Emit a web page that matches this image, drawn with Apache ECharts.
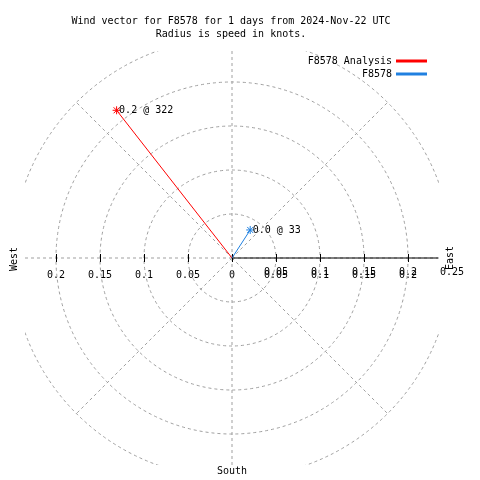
<!DOCTYPE html>
<html>
<head>
<meta charset="utf-8">
<script src="https://cdn.jsdelivr.net/npm/echarts@6/dist/echarts.min.js"></script>
<style>html,body{margin:0;padding:0;background:#fff}#c{width:480px;height:480px}</style>
</head>
<body>
<div id="c"></div>
<script>
const titleLines = ['Wind vector for F8578 for 1 days from 2024-Nov-22 UTC', 'Radius is speed in knots.'];
const seriesNames = ['F8578 Analysis', 'F8578'];
const seriesColors = ['#ff0000', '#2080e0'];
const speeds = [0.213, 0.038];
const directions = [322, 33];
const ringValues = [0.05, 0.1, 0.15, 0.2, 0.25];
const spokeAngles = [0, 45, 90, 135, 180, 225, 270, 315];
const xTickValues = [-0.2, -0.15, -0.1, -0.05, 0, 0.05, 0.1, 0.15, 0.2];
const xTickLabels = ['0.2', '0.15', '0.1', '0.05', '0', '0.05', '0.1', '0.15', '0.2'];
const rTickValues = [0.05, 0.1, 0.15, 0.2, 0.25];
const rTickLabels = ['0.05', '0.1', '0.15', '0.2', '0.25'];
const compassLabels = ['West', 'East', 'South'];

const FONT = 'DejaVu Sans Mono';
const GRID_COLOR = '#a0a0a0';
const SQ = 0.2352;   // half-size of the plot square in knots
const RMAX = 0.25;

function labelFor(vals, labs) {
  return function (v) {
    const i = vals.findIndex(t => Math.abs(t - v) < 1e-9);
    return i >= 0 ? labs[i] : '';
  };
}

function renderGrid(params, api) {
  const cs = params.coordSys;
  const clip = () => ({ type: 'rect', shape: { x: cs.x, y: cs.y, width: cs.width, height: cs.height } });
  const o = api.coord([0, 0]);
  const dashed = { fill: 'none', stroke: GRID_COLOR, lineWidth: 1, lineDash: [3, 3] };
  const children = [];
  ringValues.forEach(v => {
    const p = api.coord([v, 0]);
    children.push({ type: 'circle', shape: { cx: o[0], cy: o[1], r: p[0] - o[0] }, style: dashed, clipPath: clip() });
  });
  spokeAngles.forEach(a => {
    const rad = a * Math.PI / 180;
    const p = api.coord([RMAX * Math.sin(rad), RMAX * Math.cos(rad)]);
    children.push({ type: 'line', shape: { x1: o[0], y1: o[1], x2: p[0], y2: p[1] }, style: dashed, clipPath: clip() });
  });
  const e = api.coord([SQ - 0.001, 0]);
  children.push({ type: 'line', shape: { x1: o[0], y1: o[1], x2: e[0], y2: e[1] }, style: { stroke: '#000', lineWidth: 1 } });
  xTickValues.forEach(v => {
    const p = api.coord([v, 0]);
    children.push({ type: 'line', shape: { x1: Math.round(p[0]) + 0.5, y1: p[1] - 4, x2: Math.round(p[0]) + 0.5, y2: p[1] + 4 }, style: { stroke: '#000', lineWidth: 1 } });
  });
  return { type: 'group', children: children };
}

const asterisk = 'path://M4 0L4 8M0 4L8 4M1 1L7 7M7 1L1 7';

const vectorSeries = seriesNames.map((name, i) => ({
  type: 'line',
  name: name,
  coordinateSystem: 'polar',
  polarIndex: 0,
  z: 5,
  color: seriesColors[i],
  lineStyle: { color: seriesColors[i], width: 1 },
  symbol: asterisk,
  symbolSize: 8,
  itemStyle: { color: seriesColors[i], borderColor: seriesColors[i], borderWidth: 1 },
  label: { show: false },
  data: [
    { value: [0, directions[i]], symbol: 'none' },
    {
      value: [speeds[i], directions[i]],
      label: {
        show: true, position: 'right', distance: -2,
        formatter: speeds[i].toFixed(1) + ' @ ' + directions[i],
        fontFamily: FONT, fontSize: 10, color: '#000'
      }
    }
  ]
}));

const axisText = { fontFamily: FONT, fontSize: 10, color: '#000' };

const option = {
  animation: false,
  backgroundColor: '#fff',
  title: {
    text: titleLines.join('\n'),
    left: 231, top: 15, textAlign: 'center', padding: 0,
    textStyle: { fontFamily: FONT, fontSize: 10, fontWeight: 'normal', color: '#000', lineHeight: 13 }
  },
  legend: [
    { data: [seriesNames[0]], right: 53, top: 56, padding: 0, align: 'right', icon: 'rect', itemWidth: 29, itemHeight: 1, textStyle: axisText, selectedMode: false },
    { data: [seriesNames[1]], right: 53, top: 69, padding: 0, align: 'right', icon: 'rect', itemWidth: 29, itemHeight: 1, textStyle: axisText, selectedMode: false }
  ],
  grid: [
    { left: 25, top: 51, width: 414, height: 414, show: false },
    { left: 12, top: 38, width: 440, height: 440, show: false }
  ],
  xAxis: [
    {
      type: 'value', gridIndex: 0, min: -SQ, max: SQ, position: 'bottom', offset: -207,
      axisLine: { show: false, onZero: false },
      axisTick: { show: false }, splitLine: { show: false },
      axisLabel: { show: true, customValues: xTickValues, formatter: labelFor(xTickValues, xTickLabels), margin: 12, ...axisText, showMinLabel: true, showMaxLabel: true }
    },
    {
      type: 'value', gridIndex: 1, min: -RMAX, max: RMAX, position: 'bottom', offset: -220,
      axisLine: { show: false, onZero: false },
      axisTick: { show: false }, splitLine: { show: false },
      axisLabel: { show: true, customValues: rTickValues, formatter: labelFor(rTickValues, rTickLabels), margin: 9, ...axisText, showMinLabel: true, showMaxLabel: true }
    }
  ],
  yAxis: [
    { type: 'value', gridIndex: 0, min: -SQ, max: SQ, show: false },
    { type: 'value', gridIndex: 1, min: -RMAX, max: RMAX, show: false }
  ],
  polar: { center: [232, 258], radius: 220 },
  radiusAxis: { type: 'value', min: 0, max: RMAX, show: false, axisLine: { show: false }, axisTick: { show: false }, axisLabel: { show: false }, splitLine: { show: false } },
  angleAxis: { type: 'value', min: 0, max: 360, startAngle: 90, clockwise: true, show: false, axisLine: { show: false }, axisTick: { show: false }, axisLabel: { show: false }, splitLine: { show: false } },
  graphic: [
    { type: 'text', x: 14, y: 259, rotation: Math.PI / 2, style: { text: compassLabels[0], x: 0, y: 0, align: 'center', verticalAlign: 'middle', font: '10px "' + FONT + '"', fill: '#000' } },
    { type: 'text', x: 450, y: 258, rotation: Math.PI / 2, style: { text: compassLabels[1], x: 0, y: 0, align: 'center', verticalAlign: 'middle', font: '10px "' + FONT + '"', fill: '#000' } },
    { type: 'text', x: 232, y: 471, style: { text: compassLabels[2], x: 0, y: 0, align: 'center', verticalAlign: 'middle', font: '10px "' + FONT + '"', fill: '#000' } }
  ],
  series: [
    { type: 'custom', name: 'grid', coordinateSystem: 'cartesian2d', xAxisIndex: 0, yAxisIndex: 0, silent: true, z: 1, data: [[0, 0]], renderItem: renderGrid }
  ].concat(vectorSeries)
};

const chart = echarts.init(document.getElementById('c'), null, { renderer: 'canvas' });
chart.setOption(option);
</script>
</body>
</html>
